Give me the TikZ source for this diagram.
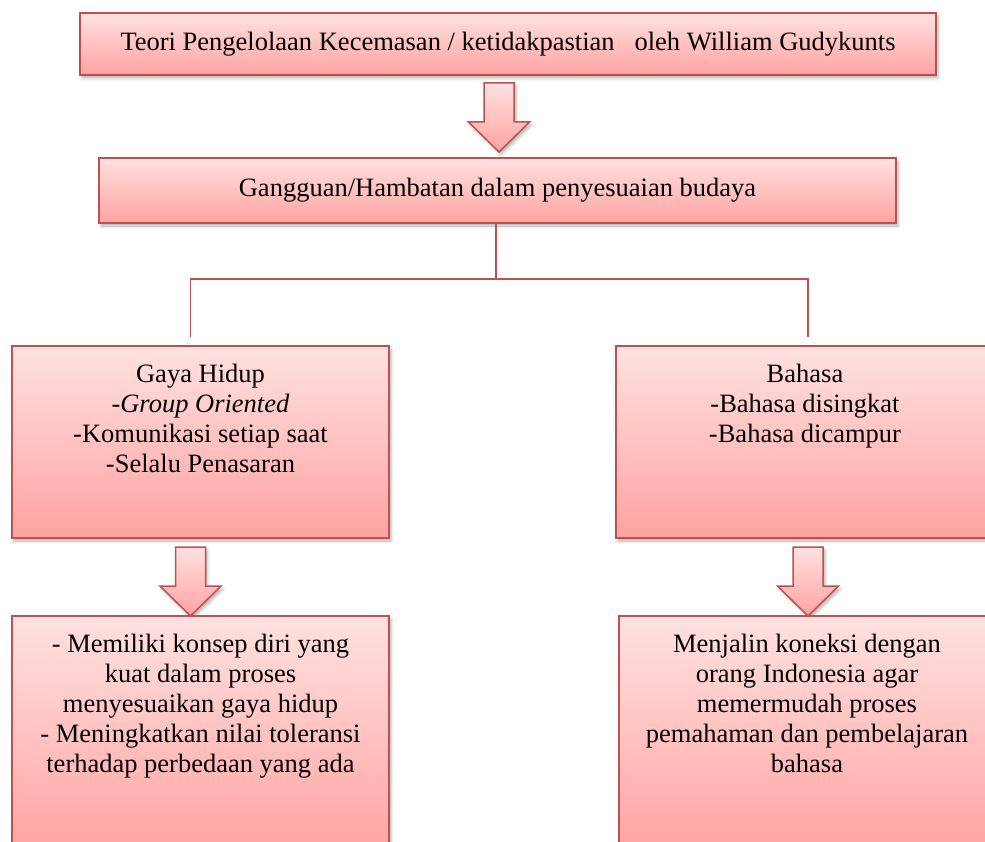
\documentclass[tikz,border=0pt]{standalone}
\usepackage{fontspec}
\setmainfont{Liberation Serif}
\usetikzlibrary{positioning,shadows.blur}
\definecolor{boxred}{HTML}{C0504D}
\definecolor{pinktop}{HTML}{FFE1E1}
\definecolor{pinkmid}{HTML}{FFC2C1}
\definecolor{pinkbot}{HTML}{FFA3A1}

\begin{document}
\begin{tikzpicture}[x=1pt,y=-1pt,
  box/.style={draw=boxred, line width=1.5pt, top color=pinktop, bottom color=pinkbot, middle color=pinkmid,
    blur shadow={shadow xshift=2pt, shadow yshift=-3pt, shadow blur radius=3pt, shadow opacity=30}, inner sep=0pt},
  txt/.style={font=\fontsize{26.5}{30}\selectfont, align=center, inner sep=0pt, anchor=north},
  link/.style={draw=boxred, line width=1.5pt},
  blockarrow/.pic={\path[box] (-15,0) -- (15,0) -- (15,39) -- (30.5,39) -- (0,69) -- (-30.5,39) -- (-15,39) -- cycle;}]
\useasboundingbox (0,0) rectangle (985,842);
\clip (0,0) rectangle (985,842);

\node[box, font=\fontsize{26.5}{30}\selectfont, minimum width=856, minimum height=62] (teori) at (508,44)
  {Teori Pengelolaan Kecemasan / ketidakpastian\ \ \ oleh William Gudykunts};
\pic (arrtop) at (499,83) {blockarrow};
\node[box, font=\fontsize{26.5}{30}\selectfont, minimum width=797, minimum height=65] (gangguan) at (497.5,190.5)
  {Gangguan/Hambatan dalam penyesuaian budaya};

\node[box, minimum width=377, minimum height=192] (gaya) at (200.5,442) {};
\node[txt] (gayatxt) at ([yshift=-19pt]gaya.north)
  {Gaya Hidup\\-\textit{Group Oriented}\\-Komunikasi setiap saat\\-Selalu Penasaran};
\node[box, minimum width=378, minimum height=192] (bahasa) at (805,442) {};
\node[txt] (bahasatxt) at ([yshift=-19pt]bahasa.north)
  {Bahasa\\-Bahasa disingkat\\-Bahasa dicampur};

\coordinate (split) at (496,279);
\coordinate (jl) at (190.5,279);
\coordinate (jr) at (808,279);
\coordinate (el) at (190.5,337);
\coordinate (er) at (808,337);
\draw[link] (gangguan.south -| split) -- (split);
\draw[link] (el) -- (jl) -- (jr) -- (er);

\pic (arrleft) at (190.5,547) {blockarrow};
\pic (arrright) at (808,547) {blockarrow};

\node[box, minimum width=377, minimum height=240] (konsep) at (200.5,736) {};
\node[txt] (konseptxt) at ([yshift=-19pt]konsep.north)
  {- Memiliki konsep diri yang\\kuat dalam proses\\menyesuaikan gaya hidup\\- Meningkatkan nilai toleransi\\terhadap perbedaan yang ada};
\node[box, minimum width=376, minimum height=240] (koneksi) at (807,736) {};
\node[txt] (koneksitxt) at ([yshift=-19pt]koneksi.north)
  {Menjalin koneksi dengan\\orang Indonesia agar\\memermudah proses\\pemahaman dan pembelajaran\\bahasa};
\end{tikzpicture}
\end{document}
